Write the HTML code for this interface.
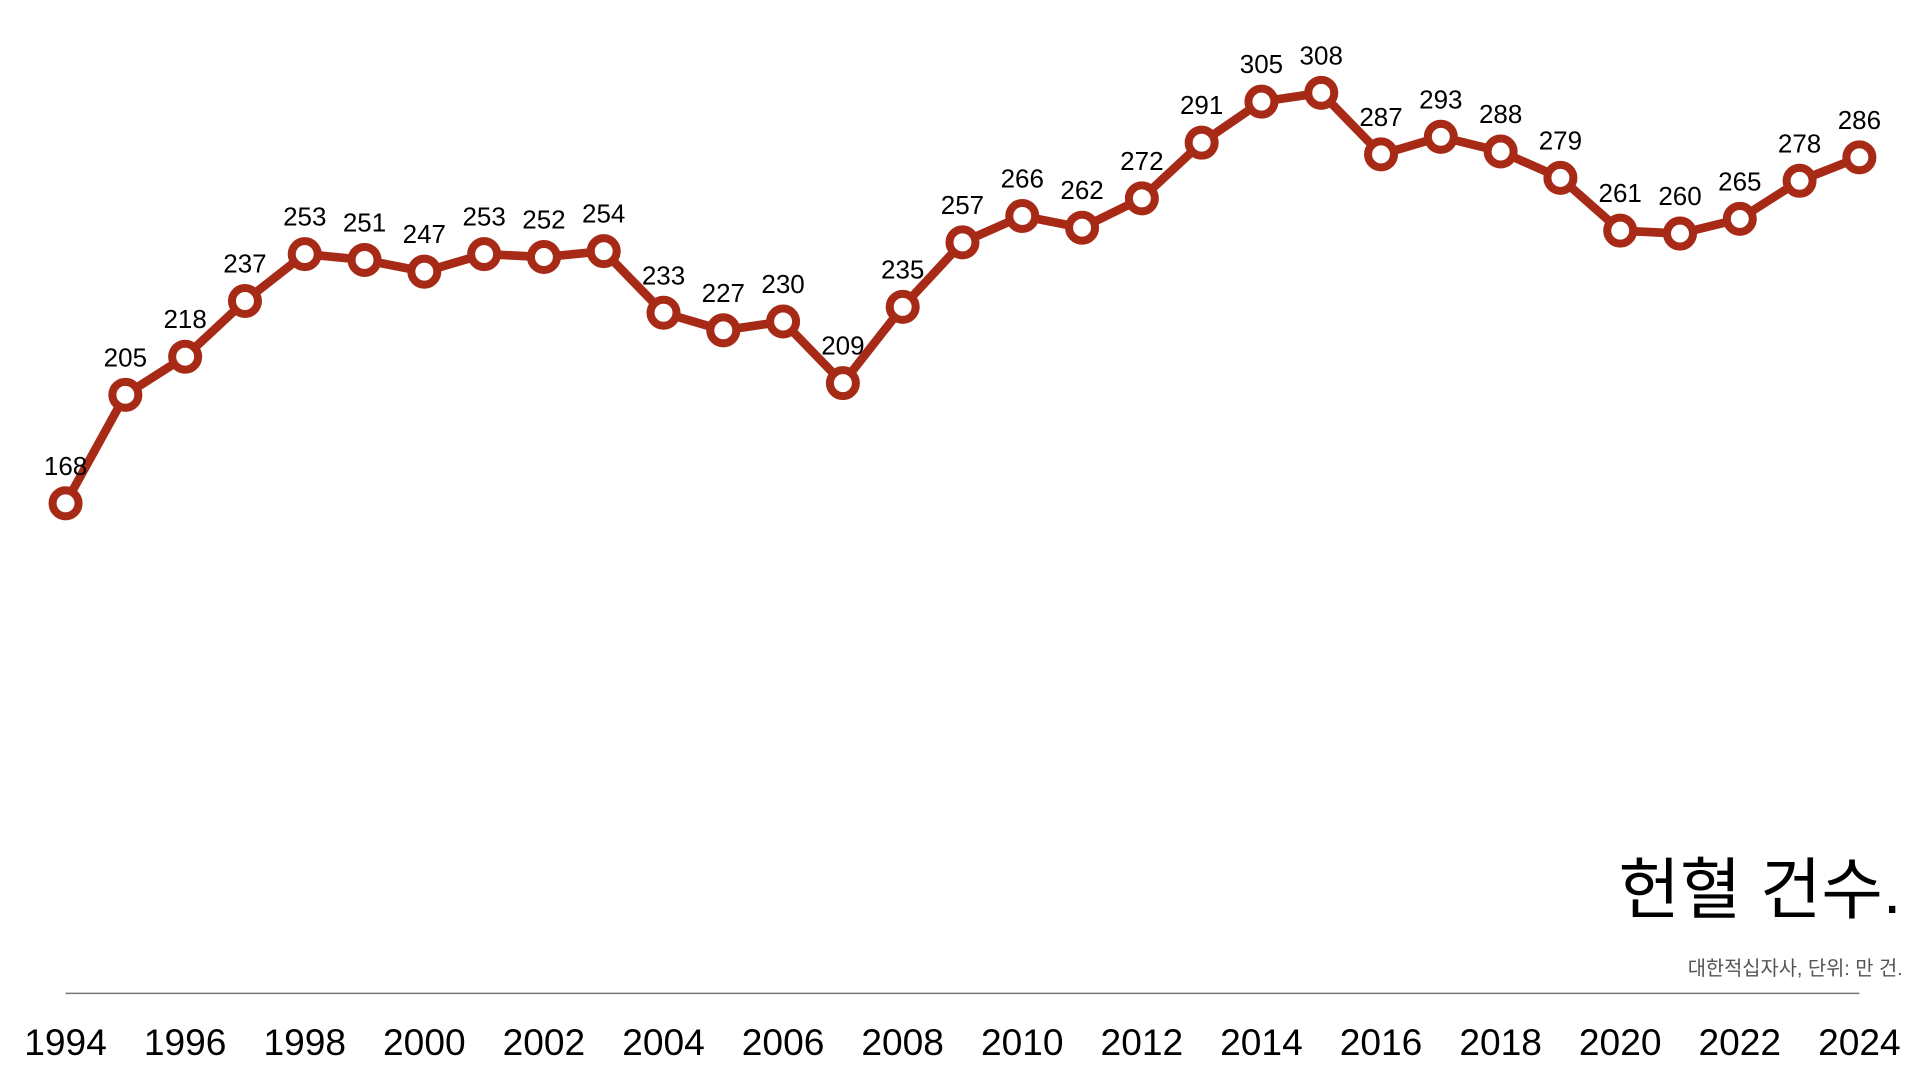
<!DOCTYPE html>
<html><head><meta charset="utf-8"><style>
html,body{margin:0;padding:0;background:#fff;}
svg{display:block;font-family:"Liberation Sans","Noto Sans CJK KR",sans-serif;}
</style></head><body>
<svg id="chart" width="1920" height="1080" viewBox="0 0 1552 873" preserveAspectRatio="none" xmlns="http://www.w3.org/2000/svg">
<line x1="53" y1="803" x2="1503" y2="803" stroke="#777" stroke-width="1.2"/>
<text x="1537" y="738" text-anchor="end" font-size="54" fill="#000">헌혈 건수.</text>
<text x="1538" y="788" text-anchor="end" font-size="16" fill="#555">대한적십자사, 단위: 만 건.</text>
<g id="xticks"></g>
<path id="line" fill="none" stroke="#a72a17" stroke-width="7" stroke-linejoin="round"/>
<g id="points"></g>
<g id="labels"></g>
</svg>
<script>
const years = [1994,1995,1996,1997,1998,1999,2000,2001,2002,2003,2004,2005,2006,2007,2008,2009,2010,2011,2012,2013,2014,2015,2016,2017,2018,2019,2020,2021,2022,2023,2024];
const values = [168,205,218,237,253,251,247,253,252,254,233,227,230,209,235,257,266,262,272,291,305,308,287,293,288,279,261,260,265,278,286];
const tickYears = [1994,1996,1998,2000,2002,2004,2006,2008,2010,2012,2014,2016,2018,2020,2022,2024];
const NS = "http://www.w3.org/2000/svg";
function xScale(y){ return 53 + (y - 1994) * (1450 / 30); }
function yScale(v){ return 805 - v * 2.37; }
const xt = document.getElementById('xticks');
tickYears.forEach(function(y){
  const t = document.createElementNS(NS,'text');
  
  
  t.setAttribute('x', xScale(y));
  t.setAttribute('y', 853);
  t.setAttribute('text-anchor','middle');
  t.setAttribute('font-size','30');
  t.textContent = y;
  xt.appendChild(t);
});
let d = '';
years.forEach(function(y,i){ d += (i ? 'L' : 'M') + xScale(y) + ' ' + yScale(values[i]) + ' '; });
document.getElementById('line').setAttribute('d', d);
const pts = document.getElementById('points');
const lbs = document.getElementById('labels');
years.forEach(function(y,i){
  const c = document.createElementNS(NS,'circle');
  
  
  c.setAttribute('cx', xScale(y));
  c.setAttribute('cy', yScale(values[i]));
  c.setAttribute('r', 10.5);
  c.setAttribute('fill','#fff');
  c.setAttribute('stroke','#a72a17');
  c.setAttribute('stroke-width','6.5');
  pts.appendChild(c);
  const t = document.createElementNS(NS,'text');
  
  
  t.setAttribute('x', xScale(y));
  t.setAttribute('y', yScale(values[i]) - 23);
  t.setAttribute('text-anchor','middle');
  t.setAttribute('font-size','21');
  t.textContent = values[i];
  lbs.appendChild(t);
});
</script>
</body></html>
